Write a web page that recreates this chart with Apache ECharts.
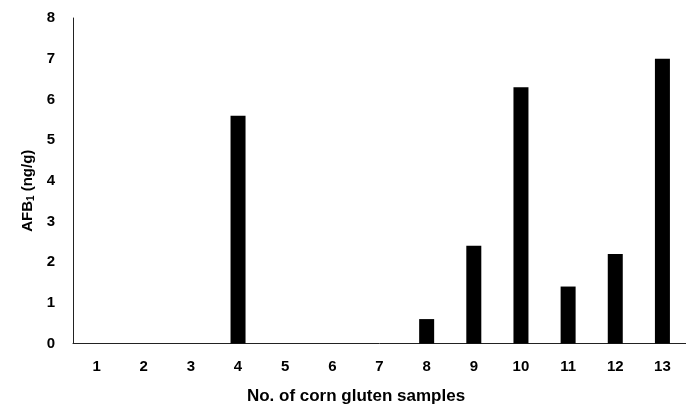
<!DOCTYPE html>
<html>
<head>
<meta charset="utf-8">
<script src="https://cdn.jsdelivr.net/npm/echarts@6/dist/echarts.min.js"></script>
<style>
html,body{margin:0;padding:0;background:#fff;}
#chart{width:686px;height:410px;}
</style>
</head>
<body>
<div id="chart"></div>
<script>
const categories = ['1','2','3','4','5','6','7','8','9','10','11','12','13'];
const afb1Values = [0, 0, 0, 5.6, 0, 0, 0, 0.6, 2.4, 6.3, 1.4, 2.2, 7.0];
const yTicks = [0, 1, 2, 3, 4, 5, 6, 7, 8];

const chart = echarts.init(document.getElementById('chart'));
const font = 'Liberation Sans, Arial, sans-serif';
chart.setOption({
  animation: false,
  title: {
    text: 'No. of corn gluten samples',
    left: 356,
    textAlign: 'center',
    top: 388,
    padding: 0,
    textStyle: { fontFamily: font, fontWeight: 'bold', fontSize: 17, color: '#000' }
  },
  grid: { left: 73, top: 18, width: 617.5, bottom: 66.5 },
  xAxis: {
    type: 'category',
    data: categories,
    axisLine: { show: true, lineStyle: { color: '#222', width: 1 } },
    axisTick: { show: false },
    axisLabel: { margin: 16, fontFamily: font, fontWeight: 'bold', fontSize: 15, color: '#000' },
    splitLine: { show: false }
  },
  yAxis: {
    type: 'value',
    min: yTicks[0],
    max: yTicks[yTicks.length - 1],
    interval: 1,
    name: '{n|AFB}{s|1}{n| (ng/g)}',
    nameLocation: 'middle',
    nameGap: 37,
    nameRotate: 90,
    nameTextStyle: {
      padding: [0, 20, 0, 0],
      rich: {
        n: { fontFamily: font, fontWeight: 'bold', fontSize: 15, color: '#000', lineHeight: 18, verticalAlign: 'bottom' },
        s: { fontFamily: font, fontWeight: 'bold', fontSize: 10, color: '#000', lineHeight: 18, verticalAlign: 'bottom' }
      }
    },
    axisLine: { show: true, lineStyle: { color: '#222', width: 1 } },
    axisTick: { show: false },
    axisLabel: { margin: 18, fontFamily: font, fontWeight: 'bold', fontSize: 15, color: '#000' },
    splitLine: { show: false }
  },
  series: [{
    type: 'bar',
    data: afb1Values,
    barWidth: 15,
    itemStyle: { color: '#000' }
  }]
});
</script>
</body>
</html>
